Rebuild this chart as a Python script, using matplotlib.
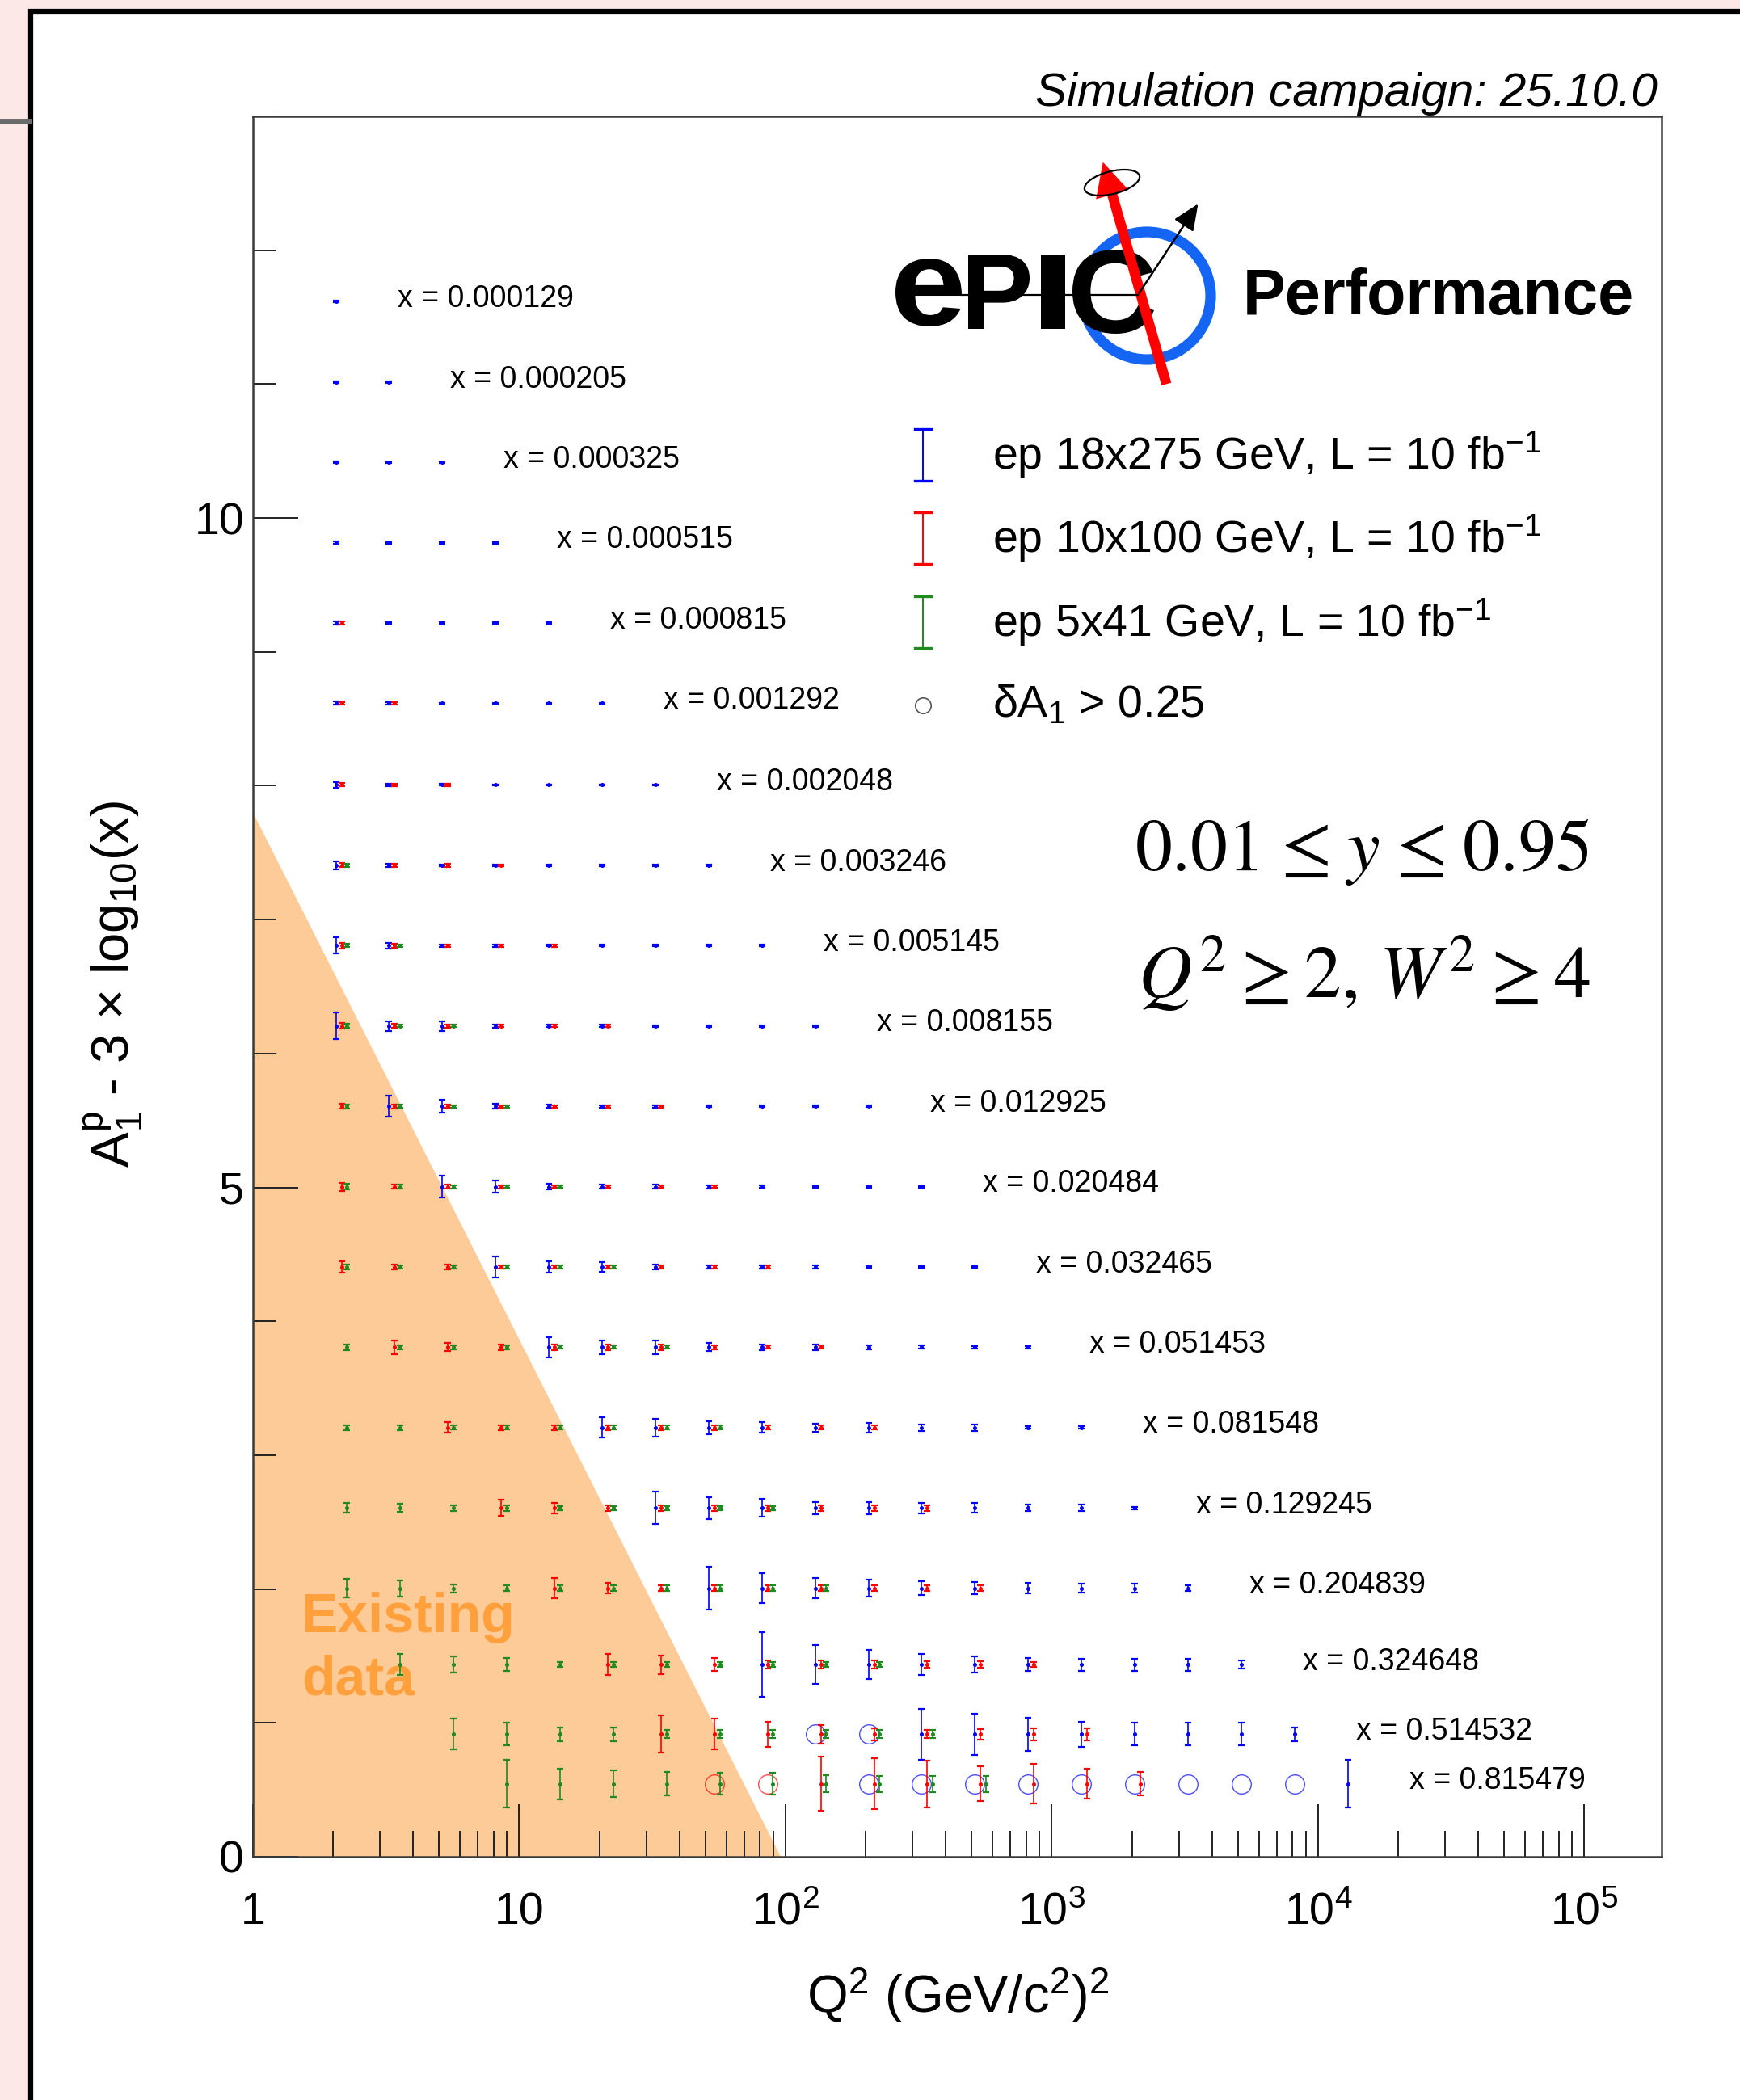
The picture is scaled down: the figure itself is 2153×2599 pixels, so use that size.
import numpy as np
import matplotlib

matplotlib.use("Agg")
import matplotlib.pyplot as plt
from matplotlib.patches import Rectangle, PathPatch, Circle, Ellipse, FancyArrowPatch
from matplotlib.text import TextPath
from matplotlib.font_manager import FontProperties
from matplotlib.transforms import Affine2D
from matplotlib.lines import Line2D
from matplotlib.ticker import MultipleLocator, LogLocator, NullFormatter

plt.rcParams["font.family"] = ["Liberation Sans", "DejaVu Sans"]
plt.rcParams["mathtext.fontset"] = "custom"
plt.rcParams["mathtext.rm"] = "Liberation Sans"
plt.rcParams["mathtext.it"] = "Liberation Sans:italic"
plt.rcParams["mathtext.bf"] = "Liberation Sans:bold"

# ---- data -------------------------------------------------------------
# Bjorken-x bins (one row each) and Q2 bin centres
x_bins = [0.000129, 0.000205, 0.000325, 0.000515, 0.000815, 0.001292,
          0.002048, 0.003246, 0.005145, 0.008155, 0.012925, 0.020484,
          0.032465, 0.051453, 0.081548, 0.129245, 0.204839, 0.324648,
          0.514532, 0.815479]
q2_bins = [2.048, 3.246, 5.145, 8.155, 12.925, 20.484, 32.465, 51.453,
           81.548, 129.245, 204.839, 324.648, 514.532, 815.479, 1292.45,
           2048.39, 3246.48, 5145.32, 8154.79, 12924.5]

# A1 central value used for each x row
a1_values = [-0.05, -0.05, -0.05, -0.05, -0.05, -0.05, -0.06, -0.06,
             -0.06, -0.06, -0.06, -0.06, -0.06, -0.06, -0.06, -0.06,
             -0.06, -0.03, 0.05, 0.28]

C = np.inf  # dA1 > 0.25 -> drawn as an open circle

# first Q2 bin filled in each x row, then the dA1 values along the row
blue_first = [0, 0, 0, 0, 0, 0, 0, 0, 0, 0, 1, 2, 3, 4, 5, 6, 7, 8, 9, 10]
blue_err = [
    [0.005],
    [0.005, 0.005],
    [0.006, 0.005, 0.005],
    [0.008, 0.005, 0.005, 0.005],
    [0.010, 0.006, 0.005, 0.005, 0.005],
    [0.012, 0.007, 0.005, 0.005, 0.005, 0.005],
    [0.020, 0.010, 0.006, 0.005, 0.005, 0.005, 0.005],
    [0.030, 0.012, 0.008, 0.006, 0.005, 0.005, 0.005, 0.005],
    [0.060, 0.020, 0.010, 0.008, 0.006, 0.005, 0.005, 0.005, 0.005],
    [0.100, 0.035, 0.035, 0.012, 0.010, 0.008, 0.006, 0.006, 0.006, 0.006],
    [0.080, 0.050, 0.020, 0.012, 0.010, 0.008, 0.006, 0.006, 0.006, 0.006],
    [0.080, 0.045, 0.020, 0.015, 0.015, 0.012, 0.008, 0.006, 0.006, 0.006],
    [0.080, 0.040, 0.035, 0.020, 0.015, 0.015, 0.010, 0.008, 0.008, 0.008],
    [0.075, 0.050, 0.050, 0.030, 0.020, 0.020, 0.015, 0.012, 0.010, 0.010],
    [0.075, 0.065, 0.050, 0.040, 0.030, 0.035, 0.025, 0.025, 0.010, 0.010],
    [0.120, 0.080, 0.065, 0.045, 0.045, 0.040, 0.035, 0.025, 0.025, 0.010],
    [0.160, 0.110, 0.075, 0.065, 0.050, 0.045, 0.040, 0.035, 0.035, 0.020],
    [0.240, 0.145, 0.110, 0.080, 0.060, 0.050, 0.045, 0.045, 0.045, 0.030],
    [C, C, 0.190, 0.155, 0.125, 0.095, 0.085, 0.085, 0.085, 0.050],
    [C, C, C, C, C, C, C, C, C, 0.180],
]

red_first = [0, 0, 0, 0, 0, 0, 0, 0, 0, 0, 0, 0, 0, 1, 2, 3, 4, 5, 6, 7]
red_err = [
    [], [], [], [],
    [0.010],
    [0.010, 0.008],
    [0.012, 0.010, 0.008],
    [0.015, 0.010, 0.010, 0.008],
    [0.020, 0.015, 0.010, 0.010, 0.008],
    [0.020, 0.015, 0.012, 0.010, 0.010, 0.008],
    [0.020, 0.015, 0.012, 0.010, 0.010, 0.010, 0.008],
    [0.030, 0.015, 0.015, 0.012, 0.010, 0.010, 0.010, 0.010],
    [0.045, 0.020, 0.020, 0.015, 0.015, 0.012, 0.012, 0.010, 0.010],
    [0.050, 0.030, 0.020, 0.020, 0.020, 0.020, 0.015, 0.012, 0.012],
    [0.040, 0.020, 0.020, 0.020, 0.020, 0.020, 0.015, 0.015, 0.015],
    [0.060, 0.040, 0.020, 0.020, 0.020, 0.020, 0.020, 0.020, 0.020],
    [0.075, 0.040, 0.020, 0.020, 0.020, 0.020, 0.020, 0.020, 0.020],
    [0.080, 0.070, 0.050, 0.030, 0.030, 0.030, 0.025, 0.025, 0.020],
    [0.140, 0.115, 0.095, 0.070, 0.045, 0.030, 0.040, 0.045, 0.045],
    [C, C, 0.200, 0.190, 0.175, 0.130, 0.150, 0.110, 0.090],
]

green_first = [0] * 17 + [1, 2, 3]
green_err = [
    [], [], [], [], [], [], [],
    [0.010],
    [0.012, 0.010],
    [0.015, 0.010, 0.010],
    [0.015, 0.012, 0.010, 0.010],
    [0.020, 0.015, 0.012, 0.010, 0.010],
    [0.020, 0.015, 0.015, 0.012, 0.012, 0.012],
    [0.020, 0.015, 0.015, 0.015, 0.012, 0.012, 0.012],
    [0.020, 0.020, 0.015, 0.015, 0.015, 0.015, 0.015, 0.015],
    [0.035, 0.030, 0.020, 0.020, 0.015, 0.015, 0.015, 0.015, 0.015],
    [0.070, 0.060, 0.030, 0.020, 0.020, 0.020, 0.020, 0.020, 0.020, 0.020],
    [0.080, 0.060, 0.050, 0.020, 0.020, 0.020, 0.020, 0.020, 0.020, 0.020],
    [0.115, 0.085, 0.050, 0.050, 0.030, 0.030, 0.030, 0.030, 0.030, 0.030],
    [0.180, 0.115, 0.100, 0.090, 0.080, 0.080, 0.065, 0.060, 0.060, 0.060],
]

beam_labels = ["ep 18x275 GeV, L = 10 fb$^{-1}$",
               "ep 10x100 GeV, L = 10 fb$^{-1}$",
               "ep 5x41 GeV, L = 10 fb$^{-1}$"]
beam_colors = ["#0000ff", "#ff0000", "#1f8a1f"]
q2_shift = [1.0, 1.05, 1.10]  # small horizontal offset between beam settings

# region covered by existing measurements
existing_q2 = [1.0, 1.0, 96.0]
existing_y = [0.0, 7.8, 0.0]

# ---- figure -------------------------------------------------------------
W, H = 2153, 2599
fig = plt.figure(figsize=(W / 100, H / 100), dpi=100, facecolor="#fde8e8")
PX = Affine2D().scale(1.0 / W, -1.0 / H).translate(0, 1) + fig.transFigure

# white panel with thick black border running off the right/bottom edge
fig.add_artist(Rectangle((38, 14), W, H + 50, transform=PX, facecolor="white",
                         edgecolor="black", linewidth=4.5, zorder=-5))
fig.add_artist(Line2D([0, 36], [150, 150], transform=PX, color="#6a6a6a",
                      linewidth=5, zorder=-4))

ax = fig.add_axes([313 / W, 1 - 2298 / H, (2056 - 313) / W, (2298 - 144) / H])
ax.set_xscale("log")
ax.set_xlim(1.0, 1.95e5)
ax.set_ylim(0, 13)
for sp in ax.spines.values():
    sp.set_color("#3a3a3a")
    sp.set_linewidth(1.8)

ax.fill(existing_q2, existing_y, color="#fdcb97", linewidth=0, zorder=0.5)
ax.text(1.52, 1.68, "Existing", color="#ffa03c", fontsize=49, fontweight="bold",
        va="baseline", ha="left", zorder=0.8)
ax.text(1.52, 1.21, "data", color="#ffa03c", fontsize=49, fontweight="bold",
        va="baseline", ha="left", zorder=0.8)

series = [(blue_first, blue_err), (red_first, red_err), (green_first, green_err)]
for (first, errs), color, shift in zip(series, beam_colors, q2_shift):
    px, py, pe, cx, cy = [], [], [], [], []
    for row, x in enumerate(x_bins):
        yval = a1_values[row] - 3 * np.log10(x)
        for j, e in enumerate(errs[row]):
            q = q2_bins[first[row] + j] * shift
            if e > 0.25:
                cx.append(q)
                cy.append(yval)
            else:
                px.append(q)
                py.append(yval)
                pe.append(e)
    ax.errorbar(px, py, yerr=pe, fmt="o", ms=2.6, color=color, ecolor=color,
                elinewidth=1.2, capsize=3, capthick=1.6, zorder=3)
    ax.plot(cx, cy, "o", ms=17, mfc="none", mec=color, mew=1.0, alpha=0.7,
            zorder=2.5)

for row, x in enumerate(x_bins):
    yval = a1_values[row] - 3 * np.log10(x)
    ax.text(q2_bins[row] * 1.7, yval - 0.04, f"x = {x:.6f}", fontsize=27,
            ha="left", va="baseline", zorder=4)

ax.set_xticks([1, 10, 1e2, 1e3, 1e4, 1e5])
ax.set_xticklabels(["1", "10", "10$^{2}$", "10$^{3}$", "10$^{4}$", "10$^{5}$"])
ax.xaxis.set_minor_locator(LogLocator(base=10, subs=np.arange(2, 10)))
ax.xaxis.set_minor_formatter(NullFormatter())
ax.yaxis.set_major_locator(MultipleLocator(5))
ax.yaxis.set_minor_locator(MultipleLocator(1))
ax.tick_params(which="both", direction="in", top=False, right=False,
               color="#222222", width=1.4, labelsize=40)
ax.tick_params(axis="x", which="major", length=47, pad=31)
ax.tick_params(axis="x", which="minor", length=23)
ax.tick_params(axis="y", which="major", length=40, pad=8)
ax.tick_params(axis="y", which="minor", length=20)

fig.text(1185 / W, 1 - 2469 / H, "Q$^{2}$ (GeV/c$^{2}$)$^{2}$", fontsize=47,
         ha="center", va="center")
fig.text(141 / W, 1 - 1218 / H,
         r"$\mathrm{A}_{1}^{\mathrm{p}}$ - 3 × log$_{10}$(x)", fontsize=47,
         rotation=90, ha="center", va="center")
fig.text(2051 / W, 1 - 131 / H, "Simulation campaign: 25.10.0", fontsize=42,
         style="italic", ha="right", va="baseline")

# kinematic cuts
fig.text(1685 / W, 1 - 1055 / H,
         r"$0.01\hspace{0.1}\leq\hspace{0.1}y\hspace{0.1}\leq\hspace{0.1}0.95$",
         fontsize=66, ha="center", va="center", math_fontfamily="stix")
fig.text(1688 / W, 1 - 1206 / H,
         r"$Q^{2}\hspace{0.03}\geq\hspace{0.03}2,\, W^{2}\hspace{0.03}\geq\hspace{0.03}4$",
         fontsize=66, ha="center", va="center", math_fontfamily="stix")

# legend
leg_rows = [563, 666, 770]
for yc, color, label in zip(leg_rows, beam_colors, beam_labels):
    fig.add_artist(Line2D([1142, 1142], [yc - 32, yc + 32], transform=PX,
                          color=color, linewidth=1.4))
    for yy in (yc - 32, yc + 32):
        fig.add_artist(Line2D([1132, 1152], [yy, yy], transform=PX,
                              color=color, linewidth=2.4))
    fig.text(1228 / W, 1 - yc / H, label, fontsize=40, ha="left", va="center")
fig.add_artist(Line2D([1142], [873], transform=PX, marker="o", ms=14,
                      mfc="none", mec="#555555", mew=1.2))
fig.text(1228 / W, 1 - 873 / H, "δA$_{1}$ > 0.25", fontsize=40, ha="left",
         va="center")


# ePIC logo
def glyph(ch, box, color="black"):
    x0, y0, x1, y1 = box
    tp = TextPath((0, 0), ch, size=100,
                  prop=FontProperties(family="Liberation Sans", weight="bold"))
    ext = tp.get_extents()
    tr = (Affine2D().translate(-ext.x0, -ext.y0)
          .scale((x1 - x0) / ext.width, -(y1 - y0) / ext.height)
          .translate(x0, y1))
    fig.add_artist(PathPatch(tr.transform_path(tp), transform=PX,
                             facecolor=color, edgecolor="none"))


fig.add_artist(Circle((1419, 366), 79, transform=PX, fill=False,
                      edgecolor="#1565f5", linewidth=9.5))
glyph("e", (1108, 320, 1190, 404))
glyph("P", (1198, 315, 1274, 407))
glyph("I", (1288, 315, 1318, 407))
glyph("C", (1327, 309, 1428, 413))
fig.add_artist(FancyArrowPatch((1444, 478), (1364, 198), transform=PX,
                               arrowstyle="simple,head_width=2.0,head_length=2.0,tail_width=0.6",
                               mutation_scale=15, color="#ff0000", linewidth=0))
fig.add_artist(Line2D([1190, 1408], [365, 365], transform=PX, color="black",
                      linewidth=1.6))
fig.add_artist(FancyArrowPatch((1408, 365), (1484, 250), transform=PX,
                               arrowstyle="-|>,head_width=0.35,head_length=0.8",
                               mutation_scale=25, color="black", linewidth=1.8))
fig.add_artist(Ellipse((1376, 226), 70, 28, angle=-14, transform=PX, fill=False,
                       edgecolor="black", linewidth=1.6))
fig.text(1538 / W, 1 - 368 / H, "Performance", fontsize=57, fontweight="bold",
         ha="left", va="center")

fig.savefig("out.png", dpi=100, facecolor=fig.get_facecolor())
